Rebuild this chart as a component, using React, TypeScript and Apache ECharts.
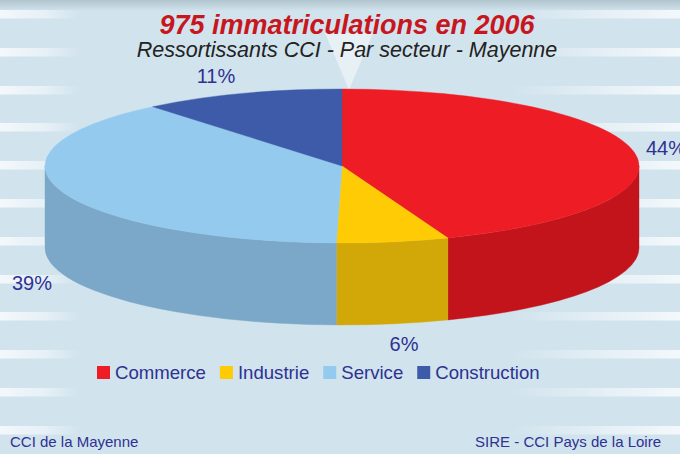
import React, { useEffect, useRef } from "react";
import * as echarts from "echarts";

const categories = ["Commerce", "Industrie", "Service", "Construction"];
const shares = [44.2, 6.1, 38.7, 11.0];
const topColors = ["#ee1c25", "#ffcb05", "#95caef", "#3d5ba9"];
const sideColors = ["#c3141b", "#d2a809", "#7ba8c8", "#36508f"];
const labelPositions = [
  [666, 148],
  [404, 344],
  [32, 283],
  [216, 76],
];
const stripeTops = [10, 48, 86, 123, 161, 199, 237, 275, 312, 350, 388, 426];

const FONT = "'Liberation Sans', Arial, sans-serif";
const TEXT_BLUE = "#2e3192";
const CX = 342;
const CY = 166;
const RX = 297;
const RY = 77;
const DEPTH = 82;

const total = shares.reduce((a, b) => a + b, 0);
const pt = (t: number, dy = 0) => [CX + RX * Math.sin(t), CY - RY * Math.cos(t) + dy];
const toAngle = (v: number) => (v / total) * Math.PI * 2;

function sectorPath(t0: number, t1: number) {
  const [x0, y0] = pt(t0);
  const [x1, y1] = pt(t1);
  const large = t1 - t0 > Math.PI ? 1 : 0;
  return `M${CX} ${CY}L${x0} ${y0}A${RX} ${RY} 0 ${large} 1 ${x1} ${y1}Z`;
}

function wallPath(t0: number, t1: number) {
  const a = Math.max(t0, Math.PI / 2);
  const b = Math.min(t1, (Math.PI * 3) / 2);
  if (a >= b) return null;
  const [x0, y0] = pt(a);
  const [x1, y1] = pt(b);
  const [x2, y2] = pt(b, DEPTH);
  const [x3, y3] = pt(a, DEPTH);
  return `M${x0} ${y0}A${RX} ${RY} 0 0 1 ${x1} ${y1}L${x2} ${y2}A${RX} ${RY} 0 0 0 ${x3} ${y3}Z`;
}

function buildSeries() {
  let acc = 0;
  return categories.map((name, i) => {
    const t0 = toAngle(acc);
    acc += shares[i];
    const t1 = toAngle(acc);
    return {
      type: "custom",
      name,
      coordinateSystem: "none",
      itemStyle: { color: topColors[i] },
      data: [shares[i]],
      silent: true,
      renderItem: (_p: unknown, api: any) => {
        const children: any[] = [];
        const wall = wallPath(t0, t1);
        if (wall) {
          children.push({
            type: "path",
            shape: { pathData: wall },
            style: { fill: sideColors[i], stroke: sideColors[i], lineWidth: 0.4 },
          });
        }
        children.push({
          type: "path",
          shape: { pathData: sectorPath(t0, t1) },
          style: { fill: topColors[i], stroke: topColors[i], lineWidth: 0.4 },
        });
        children.push({
          type: "text",
          x: labelPositions[i][0],
          y: labelPositions[i][1],
          style: {
            text: `${Math.round(api.value(0))}%`,
            fill: TEXT_BLUE,
            font: `20px ${FONT}`,
            align: "center",
            verticalAlign: "middle",
          },
        });
        return { type: "group", children };
      },
    };
  });
}

function stripes() {
  const out: any[] = [];
  stripeTops.forEach((y) => {
    out.push({
      type: "rect",
      shape: { x: 0, y, width: 80, height: 8.5 },
      style: {
        fill: new echarts.graphic.LinearGradient(0, 0, 1, 0, [
          { offset: 0, color: "rgba(245,249,252,0.95)" },
          { offset: 0.55, color: "rgba(240,246,250,0.7)" },
          { offset: 1, color: "rgba(240,246,250,0)" },
        ]),
      },
    });
    out.push({
      type: "rect",
      shape: { x: 510, y, width: 170, height: 8.5 },
      style: {
        fill: new echarts.graphic.LinearGradient(0, 0, 1, 0, [
          { offset: 0, color: "rgba(240,246,250,0)" },
          { offset: 0.6, color: "rgba(240,246,250,0.7)" },
          { offset: 1, color: "rgba(245,249,252,0.95)" },
        ]),
      },
    });
  });
  return out;
}

export default function App() {
  const ref = useRef<HTMLDivElement>(null);
  useEffect(() => {
    document.body.style.margin = "0";
    document.body.style.overflow = "hidden";
    const chart = echarts.init(ref.current!, null, { renderer: "svg" });
    chart.setOption({
      animation: false,
      backgroundColor: "#d1e3ed",
      title: {
        text: "975 immatriculations en 2006",
        subtext: "Ressortissants CCI - Par secteur - Mayenne",
        left: 342,
        top: 6,
        textAlign: "center",
        itemGap: 1,
        textStyle: { fontFamily: FONT, fontSize: 27, fontWeight: "bold", fontStyle: "italic", color: "#c8161f" },
        subtextStyle: { fontFamily: FONT, fontSize: 21.5, fontStyle: "italic", color: "#222222" },
      },
      legend: {
        data: categories,
        left: 97,
        top: 363,
        padding: 0,
        icon: "rect",
        itemWidth: 13,
        itemHeight: 13,
        itemGap: 14,
        selectedMode: false,
        textStyle: { fontFamily: FONT, fontSize: 18.6, color: TEXT_BLUE },
      },
      graphic: {
        elements: [
          {
            type: "rect",
            shape: { x: 0, y: 0, width: 680, height: 11 },
            style: {
              fill: new echarts.graphic.LinearGradient(0, 0, 0, 1, [
                { offset: 0, color: "#b1c5ce" },
                { offset: 1, color: "#d1e3ed" },
              ]),
            },
          },
          ...stripes(),
          {
            type: "polygon",
            shape: { points: [[325, 33], [373, 33], [349, 90]] },
            style: { fill: "rgba(255,255,255,0.45)" },
          },
          {
            type: "text",
            x: 10,
            y: 441,
            style: { text: "CCI de la Mayenne", fill: TEXT_BLUE, font: `15px ${FONT}`, verticalAlign: "middle" },
          },
          {
            type: "text",
            x: 661,
            y: 441,
            style: { text: "SIRE - CCI Pays de la Loire", fill: TEXT_BLUE, font: `15px ${FONT}`, align: "right", verticalAlign: "middle" },
          },
        ],
      },
      series: buildSeries(),
    });
    return () => chart.dispose();
  }, []);
  return <div ref={ref} style={{ position: "absolute", left: 0, top: 0, width: 680, height: 454 }} />;
}
